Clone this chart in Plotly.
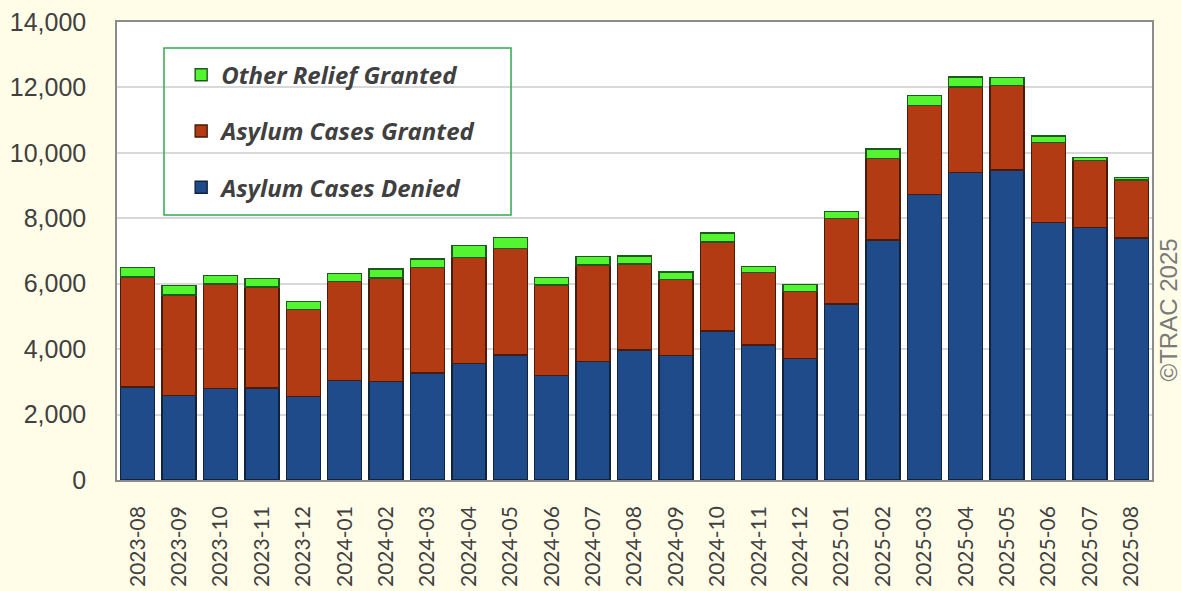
import plotly.graph_objects as go

months = ["2023-08", "2023-09", "2023-10", "2023-11", "2023-12",
          "2024-01", "2024-02", "2024-03", "2024-04", "2024-05", "2024-06",
          "2024-07", "2024-08", "2024-09", "2024-10", "2024-11", "2024-12",
          "2025-01", "2025-02", "2025-03", "2025-04", "2025-05", "2025-06",
          "2025-07", "2025-08"]

denied = [2840, 2580, 2790, 2810, 2550, 3040, 3010, 3270, 3570, 3825, 3190,
          3620, 3980, 3815, 4560, 4130, 3710, 5380, 7335, 8720, 9400, 9480,
          7870, 7720, 7395]
granted = [3360, 3080, 3200, 3090, 2670, 3020, 3160, 3230, 3225, 3260, 2770,
           2950, 2625, 2320, 2710, 2210, 2060, 2605, 2495, 2730, 2610, 2570,
           2445, 2040, 1780]
other = [290, 285, 260, 255, 245, 245, 285, 260, 380, 335, 235, 255, 245, 225,
         275, 195, 215, 225, 285, 305, 305, 255, 195, 90, 80]

y_ticks = [0, 2000, 4000, 6000, 8000, 10000, 12000, 14000]

BG = "#FFFDE8"
TXT = "#404040"

fig = go.Figure()
fig.add_trace(go.Bar(x=months, y=denied, name="Asylum Cases Denied",
                     legendgroup="a", legendrank=3,
                     marker=dict(color="#1F4B8A", line=dict(color="#10233D", width=1.4))))
fig.add_trace(go.Bar(x=months, y=granted, name="Asylum Cases Granted",
                     legendgroup="b", legendrank=2,
                     marker=dict(color="#B33B14", line=dict(color="#4A1A0A", width=1.4))))
fig.add_trace(go.Bar(x=months, y=other, name="Other Relief Granted",
                     legendgroup="c", legendrank=1,
                     marker=dict(color="#52F52F", line=dict(color="#1E5A1E", width=1.4))))

# legend frame
fig.add_shape(type="rect", xref="paper", yref="paper",
              x0=0.0454, x1=0.3807, y0=0.5786, y1=0.9432,
              line=dict(color="#2EAA50", width=1.5), fillcolor="rgba(0,0,0,0)",
              layer="above")

fig.add_annotation(text="©TRAC 2025", xref="paper", yref="paper",
                   x=1.0, xanchor="left", xshift=0, y=(480 - 310) / 458,
                   yanchor="middle", textangle=-90, showarrow=False,
                   font=dict(family="Liberation Sans", size=24, color="#7A7A7A"))

fig.update_layout(
    width=1181, height=591,
    barmode="stack", bargap=0.18,
    paper_bgcolor=BG, plot_bgcolor="white",
    margin=dict(l=117, r=29, t=22, b=111, autoexpand=False),
    showlegend=True,
    legend=dict(x=0.062, y=0.933, xanchor="left", yanchor="top",
                traceorder="grouped", tracegroupgap=22,
                bgcolor="rgba(0,0,0,0)", borderwidth=0,
                font=dict(family="Open Sans", size=24, color=TXT,
                          weight="bold", style="italic")),
    font=dict(family="Liberation Sans", color=TXT),
)
fig.update_yaxes(range=[0, 14000], tickvals=y_ticks, tickformat=",",
                 showgrid=True, gridcolor="#D9D9D9", gridwidth=1.5,
                 showline=True, mirror=True, linecolor="#8C8C8C", linewidth=1.5,
                 ticks="", ticklabelstandoff=24, zeroline=False,
                 tickfont=dict(family="Liberation Sans", size=25, color=TXT))
fig.update_xaxes(type="category", tickangle=-90,
                 showline=True, mirror=True, linecolor="#8C8C8C", linewidth=1.5,
                 ticks="", ticklabelstandoff=16,
                 tickfont=dict(family="Lato", size=21, color=TXT))

fig.write_html("out.html", config={"displayModeBar": False},
               post_script="document.body.style.margin='0';document.body.style.overflow='hidden';")
